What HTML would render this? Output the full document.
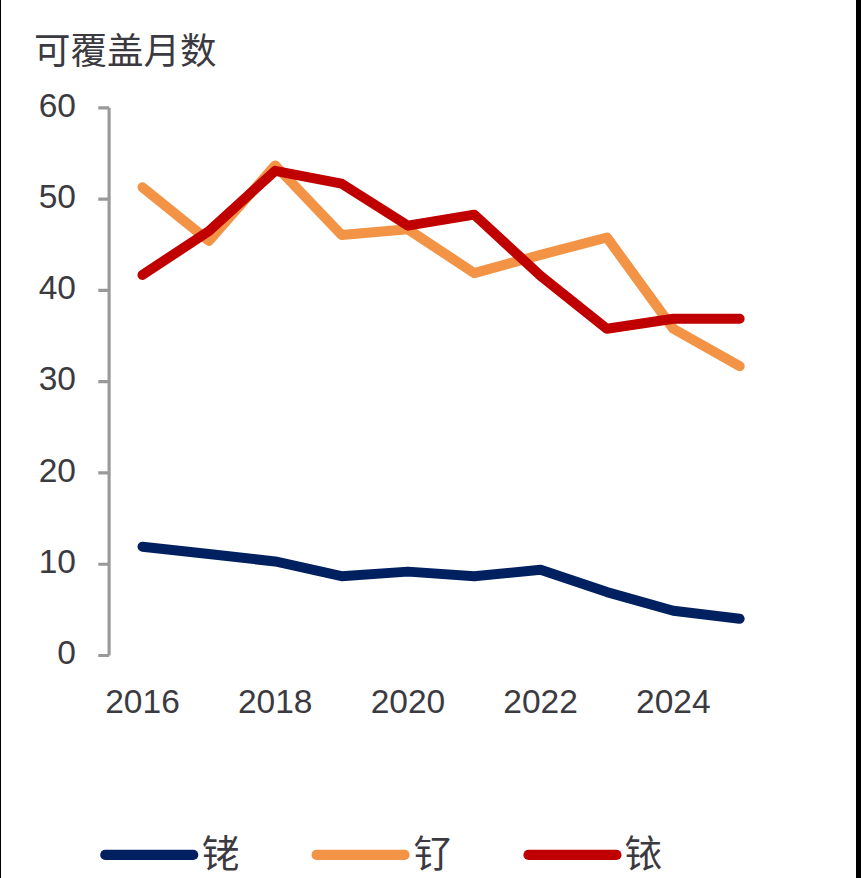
<!DOCTYPE html>
<html lang="zh"><head><meta charset="utf-8"><title>可覆盖月数</title>
<style>html,body{margin:0;padding:0;background:#fff;font-family:"Liberation Sans",sans-serif}svg{display:block}</style></head><body>
<svg width="861" height="878" viewBox="0 0 861 878" role="img" aria-label="可覆盖月数: 铑, 钌, 铱 (2016-2025)">
<rect width="861" height="878" fill="#fff"/>
<rect x="0" y="0" width="1" height="878" fill="#000"/>
<rect x="856" y="0" width="5" height="878" fill="#000"/>
<path d="M109.1 107.85V655.45M98.30 655.45H109.1M98.30 564.18H109.1M98.30 472.92H109.1M98.30 381.65H109.1M98.30 290.38H109.1M98.30 199.12H109.1M98.30 107.85H109.1" fill="none" stroke="#999999" stroke-width="3.1"/>
<polyline points="142.50,546.71 208.85,554.01 275.20,561.49 341.55,576.19 407.90,571.62 474.25,576.19 540.60,569.85 606.95,592.07 673.30,610.69 739.65,618.81" fill="none" stroke="#002060" stroke-width="10" stroke-linecap="round" stroke-linejoin="round"/>
<polyline points="142.50,187.28 208.85,240.90 275.20,165.38 341.55,234.90 407.90,229.27 474.25,273.08 540.60,254.82 606.95,237.48 673.30,328.75 739.65,366.17" fill="none" stroke="#f29345" stroke-width="10" stroke-linecap="round" stroke-linejoin="round"/>
<polyline points="142.50,274.90 208.85,231.09 275.20,170.86 341.55,183.63 407.90,225.62 474.25,214.67 540.60,275.82 606.95,328.80 673.30,318.71 739.65,318.71" fill="none" stroke="#c00000" stroke-width="10" stroke-linecap="round" stroke-linejoin="round"/>
<line x1="105.3" y1="854.9" x2="193.2" y2="854.9" stroke="#002060" stroke-width="10.2" stroke-linecap="round"/>
<line x1="316.6" y1="854.9" x2="404.5" y2="854.9" stroke="#f29345" stroke-width="10.2" stroke-linecap="round"/>
<line x1="528.5" y1="854.9" x2="616.4" y2="854.9" stroke="#c00000" stroke-width="10.2" stroke-linecap="round"/>
<g fill="#3b3a40" font-family="&quot;Liberation Sans&quot;, &quot;Noto Sans CJK SC&quot;, sans-serif"><text x="34" y="64" font-size="36.5">可覆盖月数</text><g font-size="33.5"><text x="76.0" y="664.2" text-anchor="end">0</text><text x="76.0" y="572.9" text-anchor="end">10</text><text x="76.0" y="481.6" text-anchor="end">20</text><text x="76.0" y="390.3" text-anchor="end">30</text><text x="76.0" y="299.1" text-anchor="end">40</text><text x="76.0" y="207.8" text-anchor="end">50</text><text x="76.0" y="116.5" text-anchor="end">60</text><text x="142.5" y="713.3" text-anchor="middle">2016</text><text x="275.2" y="713.3" text-anchor="middle">2018</text><text x="407.9" y="713.3" text-anchor="middle">2020</text><text x="540.6" y="713.3" text-anchor="middle">2022</text><text x="673.3" y="713.3" text-anchor="middle">2024</text></g><g font-size="38"><text x="201.5" y="866.5">铑</text><text x="413.5" y="866.5">钌</text><text x="624.5" y="866.5">铱</text></g></g>
</svg></body></html>
